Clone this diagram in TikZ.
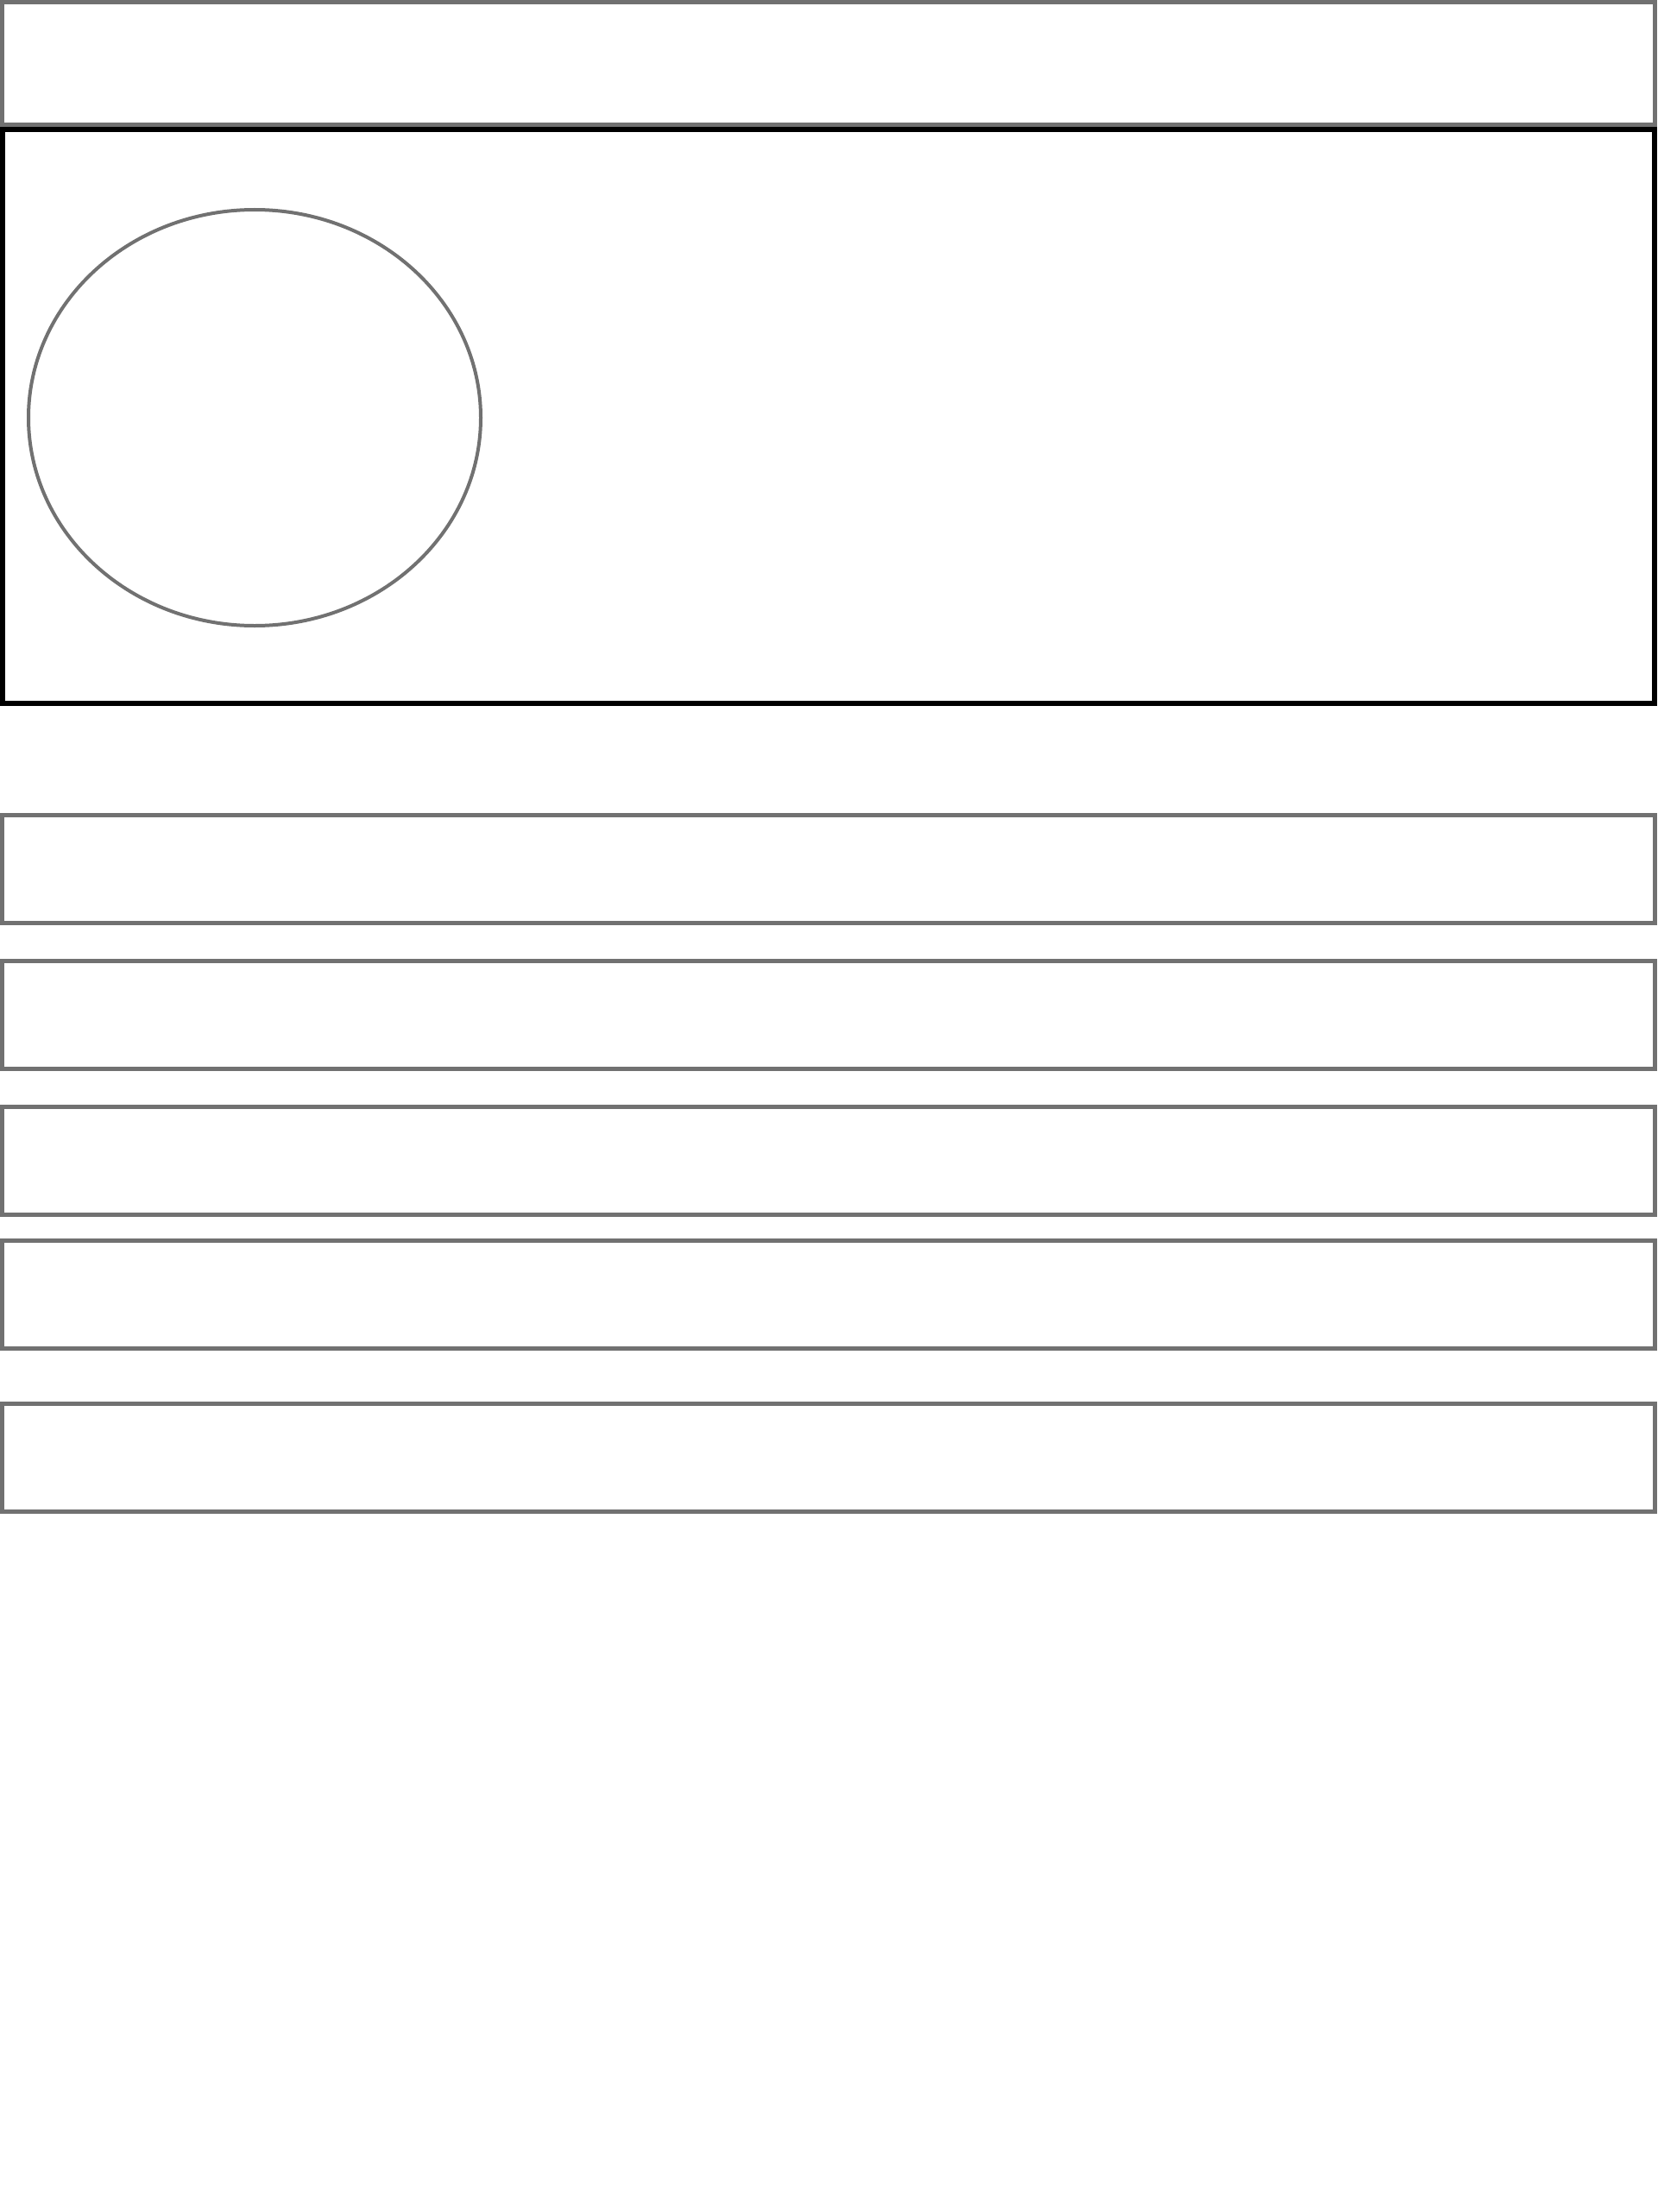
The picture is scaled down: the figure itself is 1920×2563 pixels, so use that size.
\documentclass[tikz,border=0pt]{standalone}
\usepackage{xcolor}
\usetikzlibrary{positioning, shapes}
\definecolor{boxgray}{HTML}{717171}

\begin{document}
\begin{tikzpicture}[
	x=1pt, y=1pt,
	bar/.style={rectangle, draw=boxgray, line width=5pt, inner sep=0pt, outer sep=0pt, minimum width=1915pt, minimum height=125pt},
	panel/.style={rectangle, draw=black, line width=6pt, inner sep=0pt, outer sep=0pt, minimum width=1914pt, minimum height=665pt},
	blob/.style={ellipse, draw=boxgray, line width=4pt, inner sep=0pt, outer sep=0pt, minimum width=524pt, minimum height=482pt}
]
\useasboundingbox (0,0) rectangle (1920,-2563);

\node[bar, minimum height=142pt] (header) at (960,-73.5) {};
\node[panel, below=5.5pt of header] (main_panel) {};
\node[blob, right=30pt of main_panel.west, yshift=-1.5pt] (main_oval) {};

\node[bar, below=129pt of main_panel] (row_a) {};
\node[bar, below=44pt of row_a] (row_b) {};
\node[bar, below=44pt of row_b] (row_c) {};
\node[bar, below=30pt of row_c] (row_d) {};
\node[bar, below=64pt of row_d] (row_e) {};
\end{tikzpicture}
\end{document}
